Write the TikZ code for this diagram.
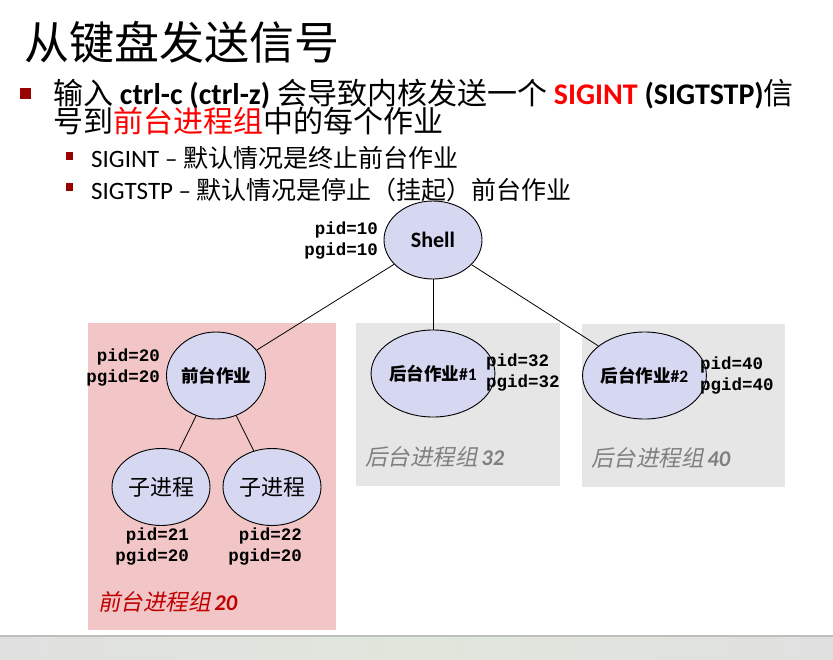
\documentclass[tikz,border=0pt]{standalone}
\usepackage{fontspec}
\usetikzlibrary{shapes.geometric}
\setmainfont{Carlito}
\newfontfamily\cjk{Noto Sans CJK SC}
\newfontfamily\cjkslant[FakeSlant=0.2]{Noto Sans CJK SC}
\newfontfamily\idmono{Liberation Mono}

\definecolor{jobfill}{RGB}{214,216,242}
\definecolor{fgpink}{RGB}{242,198,198}
\definecolor{bggray}{RGB}{230,230,230}
\definecolor{bulletred}{RGB}{153,0,0}
\definecolor{sigred}{RGB}{255,0,0}
\definecolor{fgred}{RGB}{192,0,0}
\definecolor{bglabel}{RGB}{128,128,128}
\definecolor{footgray}{RGB}{224,224,224}

\tikzset{
  job/.style={ellipse, draw=black, line width=0.9pt, fill=jobfill, inner sep=0pt},
  ids/.style={inner sep=0pt, align=right, font=\idmono\bfseries\fontsize{17.5}{21}\selectfont},
  idsleft/.style={ids, align=left},
  grouplabel/.style={inner sep=0pt, anchor=west, font=\fontsize{22.5}{27}\selectfont},
  link/.style={draw=black, line width=0.8pt},
  bigbullet/.style={fill=bulletred, inner sep=0pt, minimum size=11pt},
  smallbullet/.style={fill=bulletred, inner sep=0pt, minimum width=7pt, minimum height=8pt},
  textline/.style={inner sep=0pt, anchor=base west},
}

\begin{document}
\begin{tikzpicture}[x=1pt, y=-1pt]
\useasboundingbox (0,0) rectangle (833,659);

% footer strip
\shade[left color=footgray, right color=footgray, middle color={rgb,255:red,224;green,230;blue,220}]
  (0,636) rectangle (833,659);
\draw[line width=1.2pt, color={rgb,255:red,190;green,192;blue,188}] (0,636) -- (833,636);

% title and bullet text
\node[textline] (title) at (24,59) {\cjk\fontsize{45}{54}\selectfont 从键盘发送信号};

\node[bigbullet] (b1) at (25.5,93.5) {};
\node[textline, font=\bfseries\fontsize{30}{36}\selectfont] (l1) at (53,104)
  {{\cjk\mdseries 输入} ctrl-c (ctrl-z) {\cjk\mdseries 会导致内核发送一个} \textcolor{sigred}{SIGINT} (SIGTSTP){\cjk\mdseries 信}};
\node[textline] (l2) at (53,132)
  {\cjk\fontsize{30}{36}\selectfont 号到\textcolor{sigred}{前台进程组}中的每个作业};

\node[smallbullet] (b2) at (69.5,156) {};
\node[textline, font=\fontsize{25}{30}\selectfont] (s1) at (91,167.5)
  {SIGINT – {\cjk 默认情况是终止前台作业}};
\node[smallbullet] (b3) at (69.5,187) {};
\node[textline, font=\fontsize{25}{30}\selectfont] (s2) at (91,199.5)
  {SIGTSTP – {\cjk 默认情况是停止（挂起）前台作业}};

% process group backgrounds
\fill[fgpink] (88,323) rectangle (336,630);
\fill[bggray] (356,323) rectangle (560,486);
\fill[bggray] (582,324) rectangle (785,487);

% jobs
\node[job, minimum width=98pt, minimum height=78pt] (shell) at (433,240)
  {\bfseries\fontsize{22}{26}\selectfont Shell};
\node[job, minimum width=98pt, minimum height=87pt] (fg) at (216,375.5)
  {\cjk\bfseries\fontsize{17.5}{21}\selectfont 前台作业};
\node[job, minimum width=98pt, minimum height=77pt] (c1) at (161,487)
  {\cjk\fontsize{22}{26}\selectfont 子进程};
\node[job, minimum width=98pt, minimum height=77pt] (c2) at (272,487)
  {\cjk\fontsize{22}{26}\selectfont 子进程};
\node[job, minimum width=97pt, minimum height=87pt] (bg1) at (433,373.5)
  {\bfseries\fontsize{17.5}{21}\selectfont{\cjk 后台作业}\#1};
\node[job, minimum width=97pt, minimum height=87pt] (bg2) at (644.5,375.5)
  {\bfseries\fontsize{17.5}{21}\selectfont{\cjk 后台作业}\#2};

% parent-child links
\draw[link] (shell) -- (fg);
\draw[link] (shell) -- (bg1);
\draw[link] (shell) -- (bg2);
\draw[link] (fg) -- (c1);
\draw[link] (fg) -- (c2);

% pid / pgid labels
\node[ids, anchor=east] (shellid) at (378,241) {pid=10\\pgid=10};
\node[ids, anchor=east] (fgid) at (160,368) {pid=20\\pgid=20};
\node[ids, anchor=east] (c1id) at (189,547) {pid=21\\pgid=20};
\node[ids, anchor=east] (c2id) at (302,547) {pid=22\\pgid=20};
\node[idsleft, anchor=west] (bg1id) at (486,373) {pid=32\\pgid=32};
\node[idsleft, anchor=west] (bg2id) at (700,375.5) {pid=40\\pgid=40};

% group names
\node[grouplabel, text=fgred] (fgname) at (98,602)
  {{\cjkslant 前台进程组}\,{\bfseries\itshape 20}};
\node[grouplabel, text=bglabel] (bg1name) at (365,457)
  {{\cjkslant 后台进程组}\,{\bfseries\itshape 32}};
\node[grouplabel, text=bglabel] (bg2name) at (591,458)
  {{\cjkslant 后台进程组}\,{\bfseries\itshape 40}};
\end{tikzpicture}
\end{document}
